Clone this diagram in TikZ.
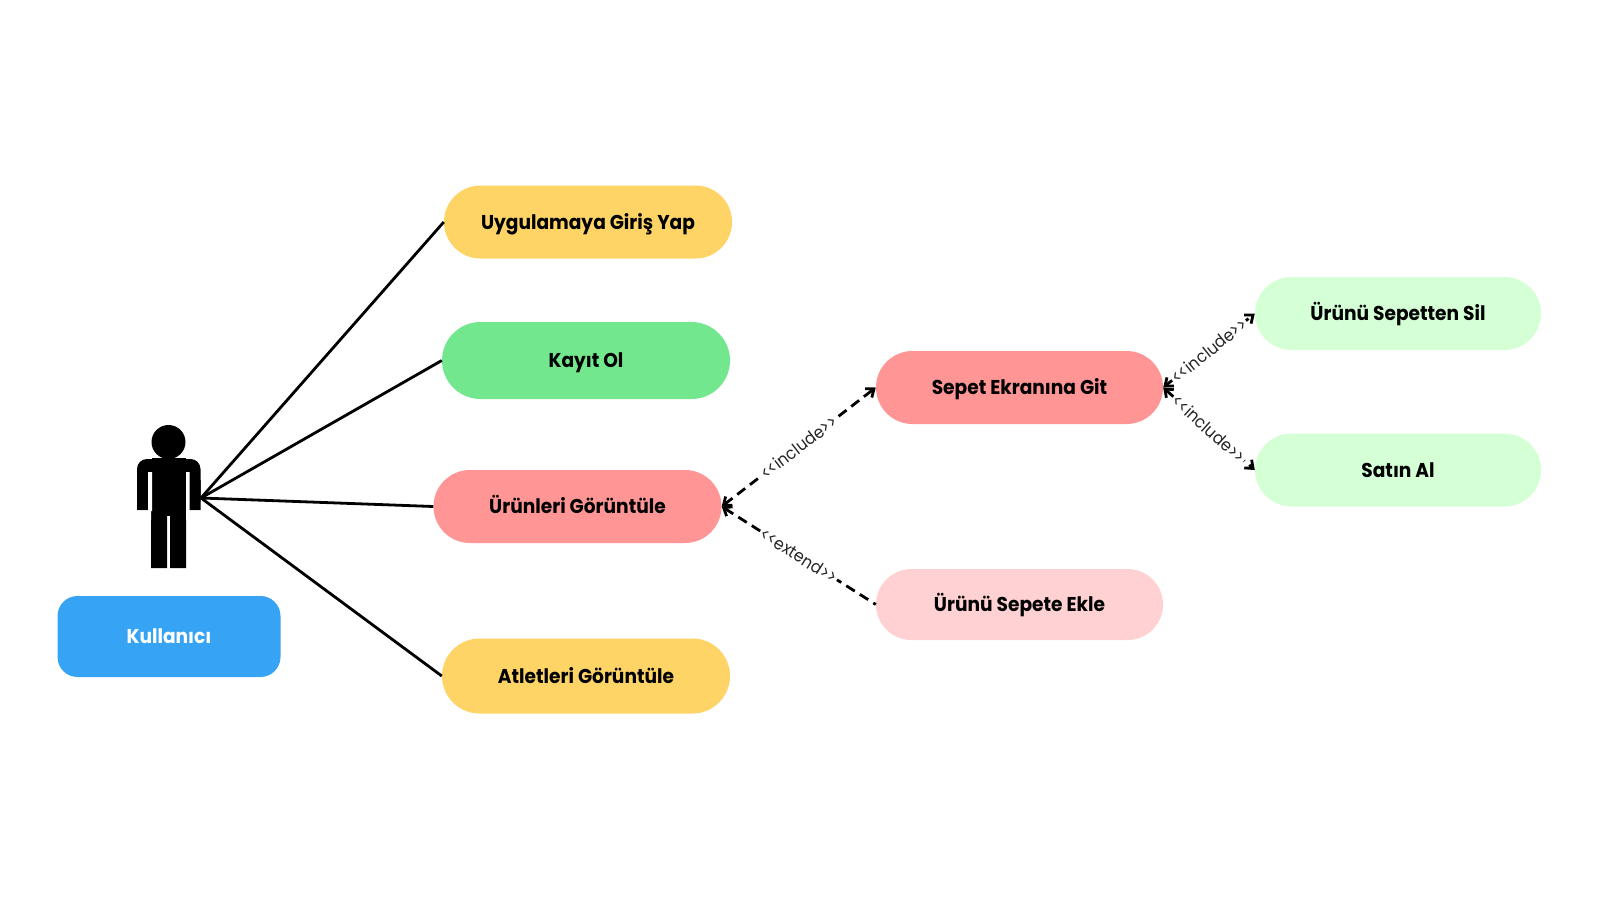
\documentclass[tikz,border=0pt]{standalone}
\usepackage{fontspec}
\setmainfont{Poppins}[FakeStretch=0.93]
\usetikzlibrary{shapes.misc,arrows.meta}
\definecolor{cyellow}{HTML}{FFD466}
\definecolor{cgreen}{HTML}{72E78D}
\definecolor{cred}{HTML}{FF9595}
\definecolor{cpink}{HTML}{FFD1D3}
\definecolor{cmint}{HTML}{D5FFD5}
\definecolor{cblue}{HTML}{36A3F5}
\newcommand{\opn}{{<}\kern-0.5pt{<}}
\newcommand{\cls}{{>}\kern-0.5pt{>}}
\tikzset{
 >={Straight Barb[length=7pt,width=11pt,line width=2.8pt]},
 usecase/.style={rounded rectangle,inner sep=0pt,minimum width=287pt,minimum height=73pt,text height=17pt,text depth=3pt,font=\fontsize{20}{24}\selectfont\bfseries,text=black},
 assoc/.style={line width=2.8pt,black},
 rel/.style={line width=2.8pt,black,dash pattern=on 10pt off 6pt},
 rellabel/.style={fill=white,inner sep=1.5pt,sloped,font=\fontsize{17}{20}\selectfont,text=black!85},
}
\begin{document}
\begin{tikzpicture}[x=1pt,y=-1pt]
\useasboundingbox (0,0) rectangle (1600,900);
\fill[white] (0,0) rectangle (1600,900);
% actor
\fill[black] (168.5,442) circle (17);
\fill[black,rounded corners=10pt] (137,510) -- (137,459) -- (200.5,459) -- (200.5,510) -- cycle;
\fill[black] (137,510) rectangle (148,480) (189.5,510) rectangle (200.5,480);
\fill[black] (152,458) rectangle (186,516);
\fill[black] (151,510) rectangle (167,568) (170,510) rectangle (186,568);
\fill[white] (148,472) rectangle (152,511) (186,472) rectangle (189.5,511);
\fill[white] (137,510.5) rectangle (151,520) (186,510.5) rectangle (201,520);
\coordinate (hand) at (201,498);
\node[rounded corners=20pt,fill=cblue,minimum width=223pt,minimum height=81pt,inner sep=0pt,text height=17pt,text depth=3pt,font=\fontsize{20}{24}\selectfont\bfseries,text=white] (user) at (169,636.5) {Kullanıcı};
\node[usecase,fill=cyellow,minimum width=288pt] (login) at (588,222) {Uygulamaya Giriş Yap};
\node[usecase,fill=cgreen,minimum width=288pt,minimum height=77pt] (register) at (586,360.5) {Kayıt Ol};
\node[usecase,fill=cred,minimum width=288pt] (products) at (577.5,506.5) {Ürünleri Görüntüle};
\node[usecase,fill=cyellow,minimum width=288pt,minimum height=75pt] (athletes) at (586,676) {Atletleri Görüntüle};
\node[usecase,fill=cred] (cart) at (1019.5,387.5) {Sepet Ekranına Git};
\node[usecase,fill=cpink,minimum height=71pt] (add) at (1019.5,604.5) {Ürünü Sepete Ekle};
\node[usecase,fill=cmint,minimum width=286pt] (remove) at (1398,313.5) {Ürünü Sepetten Sil};
\node[usecase,fill=cmint,minimum width=286pt] (buy) at (1398,470) {Satın Al};
\draw[assoc] (hand) -- (login.west);
\draw[assoc] (hand) -- (register.west);
\draw[assoc] (hand) -- (products.west);
\draw[assoc] (hand) -- (athletes.west);
\draw[rel,<->] (products.east) -- node[rellabel]{\opn include\cls} (cart.west);
\draw[rel,<-] (products.east) -- node[rellabel]{\opn extend\cls} (add.west);
\draw[rel,<->] (cart.east) -- node[rellabel]{\opn include\cls} (remove.west);
\draw[rel,<->] (cart.east) -- node[rellabel]{\opn include\cls} (buy.west);
\end{tikzpicture}
\end{document}
